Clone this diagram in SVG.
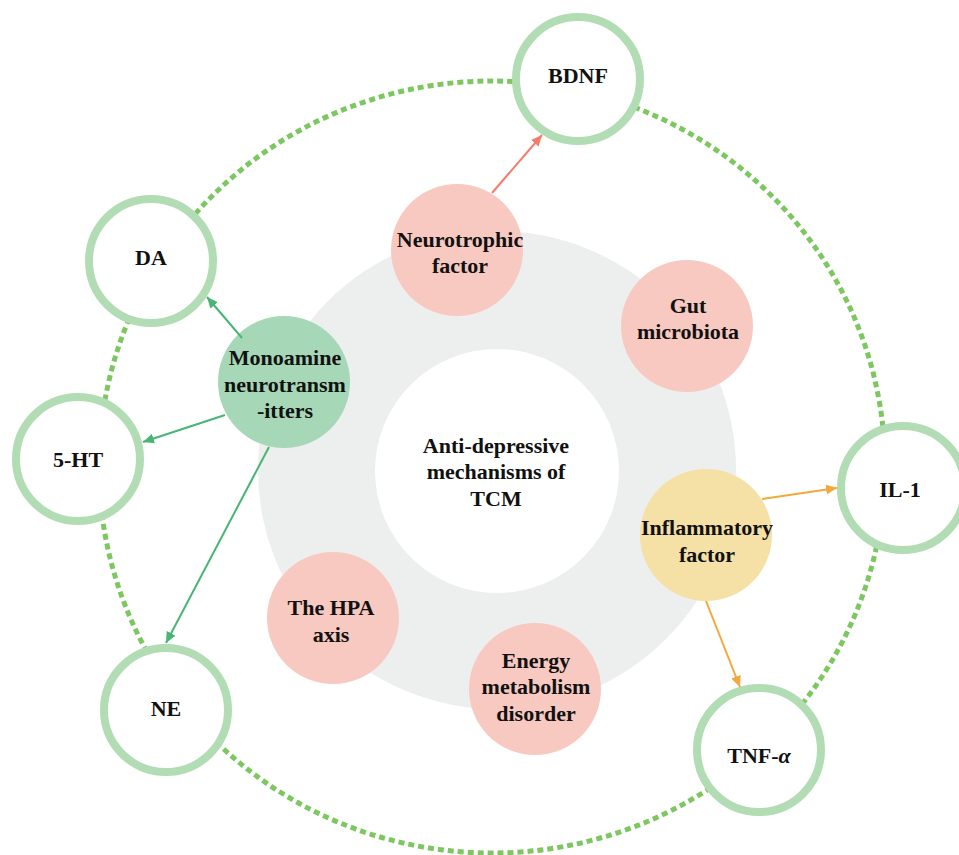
<svg xmlns="http://www.w3.org/2000/svg" width="959" height="855" viewBox="0 0 959 855">
<style>
text{font-family:"Liberation Serif","Times New Roman",serif;font-weight:bold;font-size:22px;fill:#111;text-anchor:middle}
.outer{fill:#fff;stroke:#b2dcb4;stroke-width:8}
.pink{fill:#f8c9c1}
.mono{fill:#a6d7b7}
.yellow{fill:#f5e0a6}
.dash{fill:none;stroke:#7dc761;stroke-width:5;stroke-dasharray:6 4}
.ag{stroke:#48b574;stroke-width:2;fill:none}
.ao{stroke:#f2a93b;stroke-width:2;fill:none}
.as{stroke:#f47c6a;stroke-width:2;fill:none}
</style>
<defs>
<marker id="mg" markerUnits="userSpaceOnUse" markerWidth="12" markerHeight="10" refX="11" refY="5" orient="auto"><path d="M0,0 L11,5 L0,10 z" fill="#48b574"/></marker>
<marker id="mo" markerUnits="userSpaceOnUse" markerWidth="12" markerHeight="10" refX="11" refY="5" orient="auto"><path d="M0,0 L11,5 L0,10 z" fill="#f2a93b"/></marker>
<marker id="ms" markerUnits="userSpaceOnUse" markerWidth="12" markerHeight="10" refX="11" refY="5" orient="auto"><path d="M0,0 L11,5 L0,10 z" fill="#f47c6a"/></marker>
</defs>
<rect width="959" height="855" fill="#fff"/>
<g id="ring">
<circle cx="497" cy="470" r="239" fill="#edeeee"/>
<circle cx="497" cy="471" r="122" fill="#fff"/>
</g>
<g id="outer-ring">
<ellipse class="dash" cx="492" cy="467" rx="393" ry="386"/>
</g>
<g id="center"><text x="496" y="453">Anti-depressive</text><text x="496" y="479">mechanisms of</text><text x="496" y="506">TCM</text></g>
<g id="bdnf"><circle class="outer" cx="578" cy="79" r="62"/><text x="578" y="83">BDNF</text></g>
<g id="da"><circle class="outer" cx="151" cy="261" r="62"/><text x="151" y="265">DA</text></g>
<g id="ht5"><circle class="outer" cx="78" cy="459" r="62"/><text x="78" y="467">5-HT</text></g>
<g id="ne"><circle class="outer" cx="166" cy="710" r="62"/><text x="166" y="716">NE</text></g>
<g id="il1"><circle class="outer" cx="903" cy="488" r="62"/><text x="900" y="497">IL-1</text></g>
<g id="tnf"><circle class="outer" cx="759" cy="750" r="62"/><text x="759" y="763">TNF-<tspan font-style="italic">α</tspan></text></g>
<g id="neurotrophic"><circle class="pink" cx="457" cy="250" r="66"/><text x="460" y="247">Neurotrophic</text><text x="460" y="273">factor</text></g>
<g id="gut"><circle class="pink" cx="687" cy="326" r="66"/><text x="688" y="313">Gut</text><text x="688" y="339">microbiota</text></g>
<g id="monoamine"><circle class="mono" cx="284" cy="382" r="66"/><text x="285" y="365">Monoamine</text><text x="285" y="392">neurotransm</text><text x="285" y="418">-itters</text></g>
<g id="inflammatory"><circle class="yellow" cx="706" cy="535" r="66"/><text x="707" y="535">Inflammatory</text><text x="707" y="562">factor</text></g>
<g id="hpa"><circle class="pink" cx="333" cy="618" r="66"/><text x="331" y="615">The HPA</text><text x="331" y="642">axis</text></g>
<g id="energy"><circle class="pink" cx="535" cy="689" r="66"/><text x="536" y="668">Energy</text><text x="536" y="694">metabolism</text><text x="536" y="721">disorder</text></g>
<g id="connectors">
<line class="as" x1="492" y1="193" x2="542" y2="135" marker-end="url(#ms)"/>
<line class="ag" x1="242" y1="338" x2="207" y2="297" marker-end="url(#mg)"/>
<line class="ag" x1="225" y1="415" x2="143" y2="442" marker-end="url(#mg)"/>
<line class="ag" x1="269" y1="447" x2="166" y2="643" marker-end="url(#mg)"/>
<line class="ao" x1="762" y1="499" x2="837" y2="488" marker-end="url(#mo)"/>
<line class="ao" x1="706" y1="601" x2="740" y2="687" marker-end="url(#mo)"/>
</g>
</svg>
